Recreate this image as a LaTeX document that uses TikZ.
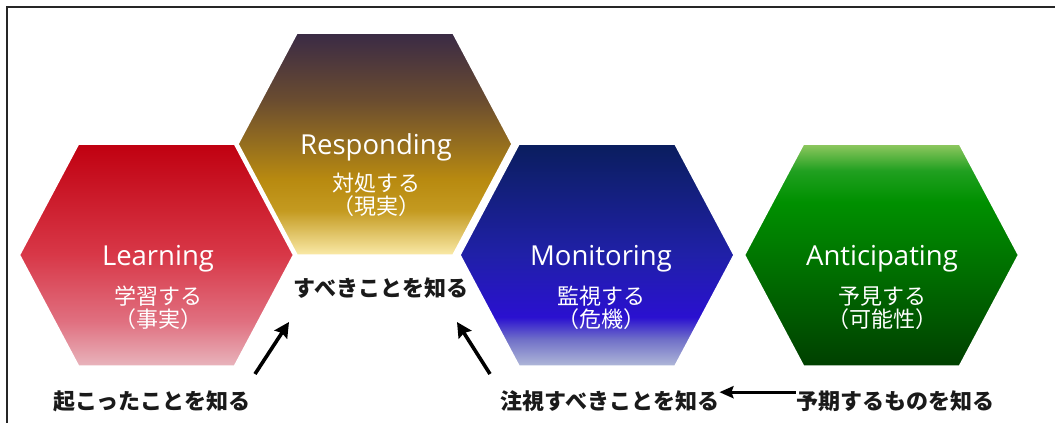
\documentclass[tikz,border=0pt]{standalone}
\usepackage{fontspec}
\setmainfont{Noto Sans CJK JP}
\newfontfamily\jp{Noto Sans CJK JP}
\newfontfamily\en{Open Sans}
\usetikzlibrary{arrows.meta}

\definecolor{lrT}{HTML}{C00010}
\definecolor{lrM}{HTML}{D83848}
\definecolor{lrC}{HTML}{E07080}
\definecolor{lrB}{HTML}{E8B4BC}
\definecolor{rsT}{HTML}{3A2A45}
\definecolor{rsA}{HTML}{6A4C30}
\definecolor{rsM}{HTML}{B88A10}
\definecolor{rsC}{HTML}{C49A20}
\definecolor{rsB}{HTML}{FAEAA8}
\definecolor{mnT}{HTML}{0A1E5E}
\definecolor{mnM}{HTML}{2020A8}
\definecolor{mnC}{HTML}{2A10D0}
\definecolor{mnD}{HTML}{7070C8}
\definecolor{mnB}{HTML}{B0B8D8}
\definecolor{anT}{HTML}{90C860}
\definecolor{anA}{HTML}{20A020}
\definecolor{anM}{HTML}{009000}
\definecolor{anC}{HTML}{007000}
\definecolor{anB}{HTML}{004000}
\definecolor{ink}{HTML}{1A1A1A}

\pgfdeclareverticalshading{learnsh}{100bp}{color(0bp)=(lrB); color(25bp)=(lrB); color(35bp)=(lrC); color(50bp)=(lrM); color(75bp)=(lrT); color(100bp)=(lrT)}
\pgfdeclareverticalshading{respsh}{100bp}{color(0bp)=(rsB); color(25bp)=(rsB); color(35bp)=(rsC); color(42bp)=(rsM); color(60bp)=(rsA); color(75bp)=(rsT); color(100bp)=(rsT)}
\pgfdeclareverticalshading{monish}{100bp}{color(0bp)=(mnB); color(25bp)=(mnB); color(31bp)=(mnD); color(36bp)=(mnC); color(50bp)=(mnM); color(75bp)=(mnT); color(100bp)=(mnT)}
\pgfdeclareverticalshading{antish}{100bp}{color(0bp)=(anB); color(25bp)=(anB); color(47bp)=(anC); color(62bp)=(anM); color(69bp)=(anA); color(75bp)=(anT); color(100bp)=(anT)}

\newcommand{\hexpath}[3]{%
  \path[draw=white, line width=1.5pt, line join=miter, shading=#3]
    (#1-137,#2) -- (#1-78,#2-111) -- (#1+78,#2-111) -- (#1+137,#2)
    -- (#1+78,#2+111) -- (#1-78,#2+111) -- cycle;}

\tikzset{
  entext/.style={anchor=base, text=white, font=\en\fontsize{27.5}{32}\selectfont, inner sep=0pt},
  jptext/.style={anchor=base, text=white, font=\jp\fontsize{22}{26}\selectfont, inner sep=0pt},
  lab/.style={anchor=base, text=ink, font=\jp\bfseries\fontsize{22}{26}\selectfont, inner sep=0pt},
  arr/.style={draw=black, line width=3.6pt, -{Stealth[length=15pt, width=15pt, inset=2pt]}},
  harr/.style={draw=black, line width=3pt, -{Stealth[length=14pt, width=12pt, inset=2pt]}}
}

\begin{document}
\begin{tikzpicture}[x=1pt, y=-1pt]
\useasboundingbox (0,0) rectangle (1055,423);
\fill[white] (0,0) rectangle (1055,423);
% frame
\draw[line width=2pt, black!85] (7,423) -- (7,7) -- (1055,7);

% hexagons
\hexpath{156.5}{255}{learnsh}
\hexpath{375}{144}{respsh}
\hexpath{597}{255}{monish}
\hexpath{881.5}{255}{antish}

% hexagon texts
\node[entext] (lrnE) at (158,265) {Learning};
\node[jptext] (lrnJ) at (158,304) {学習する};
\node[jptext] (lrnP) at (158,327) {（事実）};

\node[entext] (rspE) at (376,154) {Responding};
\node[jptext] (rspJ) at (376,191) {対処する};
\node[jptext] (rspP) at (376,214) {（現実）};

\node[entext] (monE) at (601,265) {Monitoring};
\node[jptext] (monJ) at (601,304) {監視する};
\node[jptext] (monP) at (601,327) {（危機）};

\node[entext] (antE) at (882,265) {Anticipating};
\node[jptext] (antJ) at (882,304) {予見する};
\node[jptext] (antP) at (882,327) {（可能性）};

% outer labels
\node[lab] (doKnow) at (381,296) {すべきことを知る};
\node[lab] (happened) at (152,409) {起こったことを知る};
\node[lab] (watch) at (610,409) {注視すべきことを知る};
\node[lab] (expect) at (895,409) {予期するものを知る};

% arrows
\coordinate (a1s) at (255,374);
\coordinate (a1e) at (289,322);
\coordinate (a2s) at (490,374);
\coordinate (a2e) at (457,322);
\draw[arr] (a1s) -- (a1e);
\draw[arr] (a2s) -- (a2e);
\path (expect.west) ++(0,-8.5) coordinate (a3s);
\draw[harr] (a3s) -- (a3s -| watch.east);
\end{tikzpicture}
\end{document}
